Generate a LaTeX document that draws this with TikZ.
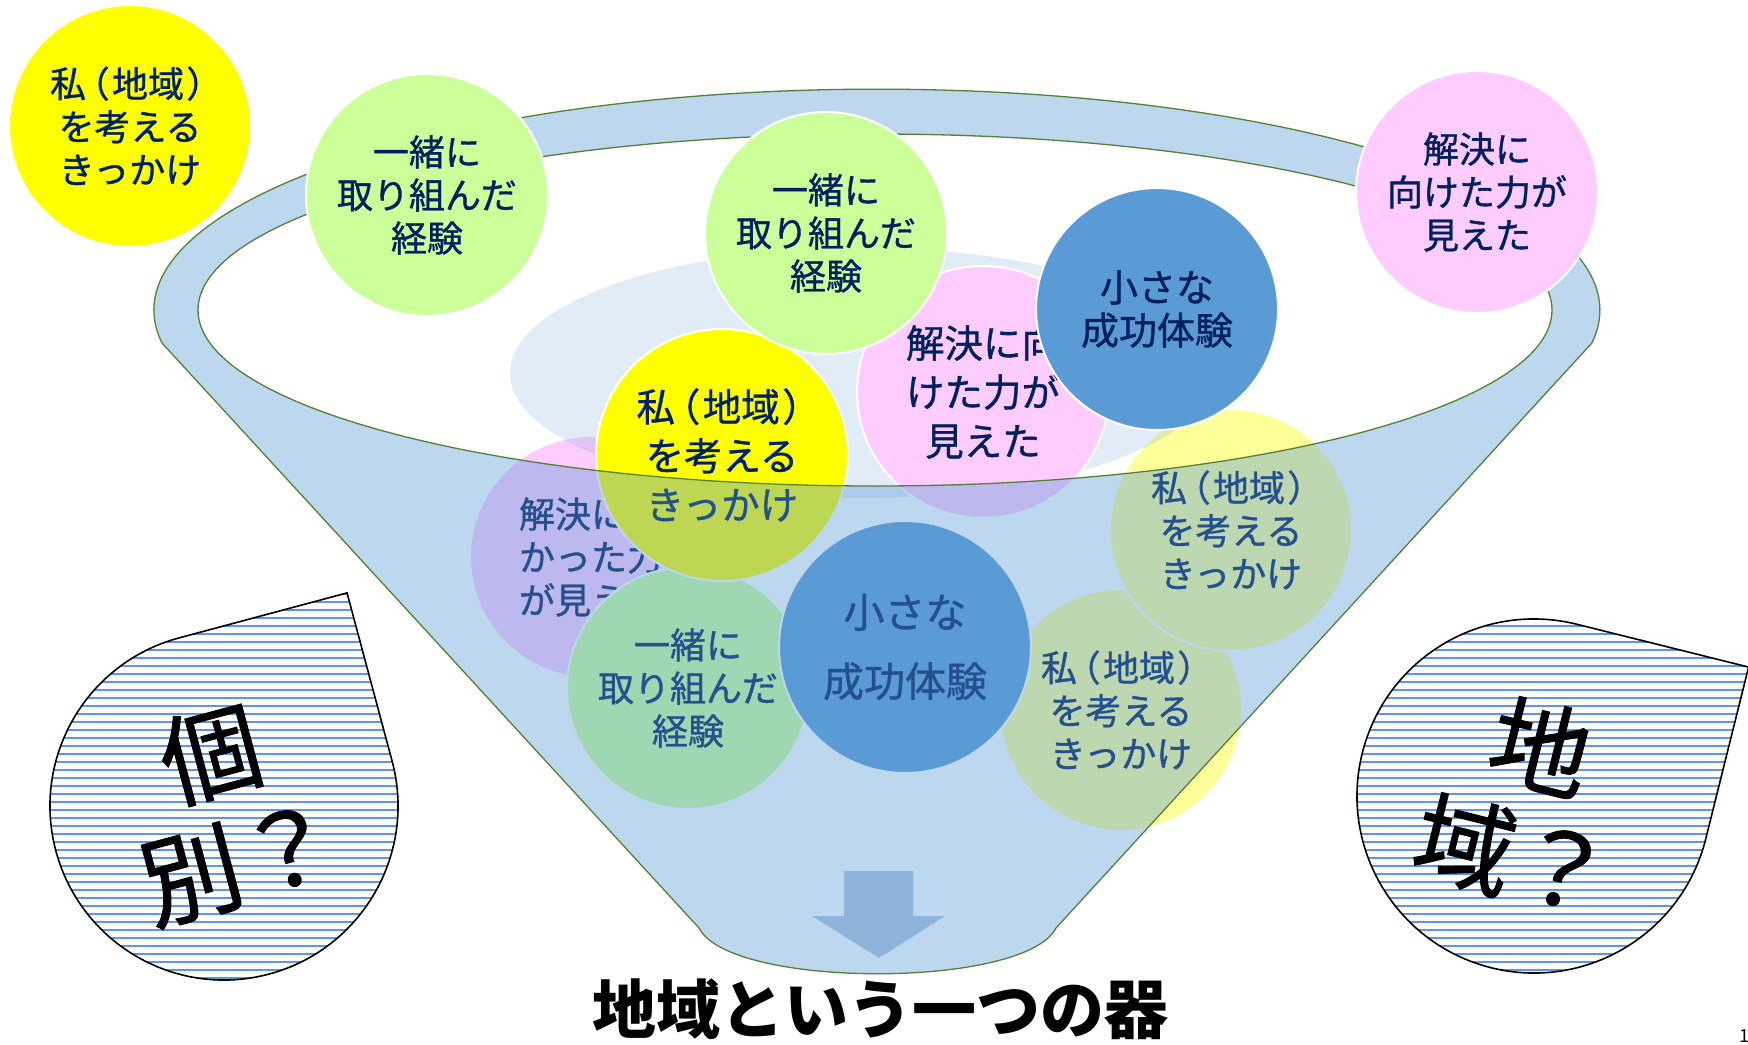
\documentclass[tikz,border=0pt]{standalone}
\usepackage{fontspec}
\setmainfont{Noto Sans CJK JP}
\newfontfamily\ballfont{Noto Sans CJK JP}[FakeBold=1]
\newfontfamily\jpp{Noto Sans CJK JP}[RawFeature=+palt, FakeBold=1]
\newcommand\myLP{{\kern0.12em\jpp （\kern0.1em}}
\newcommand\myRP{{\kern0.1em\jpp ）\kern0.12em}}
\newcommand\watashiText{私\myLP 地域\myRP\\を考える\\きっかけ}
\definecolor{navy}{HTML}{002060}
\definecolor{bblue}{HTML}{5B9BD5}
\definecolor{bpink}{HTML}{FFCCFF}
\definecolor{bgreen}{HTML}{CCFF99}
\definecolor{byellow}{HTML}{FFFF00}
\definecolor{bpale}{HTML}{FFFF99}
\definecolor{olivec}{HTML}{548235}
\definecolor{arrowc}{RGB}{143,180,220}
\begin{document}
\begin{tikzpicture}[x=1pt,y=-1pt,
  ball/.style={circle, draw=white, line width=2pt, inner sep=0pt, align=center,
    text=navy, minimum size=242pt, font=\ballfont\fontsize{36}{43}\selectfont},
  bigball/.style={ball, minimum size=252pt, font=\ballfont\fontsize{38.5}{49}\selectfont},
  droptext/.style={align=center, font=\ballfont\fontsize{100}{112}\selectfont, text=black, inner sep=0pt},
  stripe/.style={bblue, line width=2.7pt},
  dropline/.style={draw=black, line width=1.6pt}]
\useasboundingbox (0,0) rectangle (1748,1044);
\fill[white] (0,0) rectangle (1748,1044);

% balls lying deep in the funnel
\node[ball, fill=bpale] (lr) at (1121,710) {\watashiText};
\node[ball, fill=bpale] (ur) at (1231,530) {\watashiText};
\node[ball, fill=bpink] (pu) at (591,557) {解決に向\\かった力\\が見えた};
\node[ball, fill=bgreen] (gl) at (688,688) {一緒に\\取り組んだ\\経験};
\node[bigball, fill=bblue, font=\ballfont\fontsize{41}{69}\selectfont] (bl) at (905,647) {小さな\\成功体験};

% pale ellipse inside the opening
\fill[bblue, fill opacity=0.18] (862,373) ellipse [x radius=352, y radius=125];

% balls in the opening
\node[bigball, fill=byellow] (ym) at (722,455) {\watashiText};
\node[bigball, fill=bpink] (pm) at (983,392) {解決に向\\けた力が\\見えた};
\node[ball, fill=bblue, font=\ballfont\fontsize{38}{43}\selectfont] (bu) at (1157,309) {小さな\\成功体験};

% funnel
\path[fill=bblue, fill opacity=0.4, draw=olivec, line width=1.3pt, even odd rule]
  (162,343) arc[start angle=171.45, end angle=368.55, x radius=723, y radius=221]
  -- (1056,928) .. controls (1025,989) and (730,989) .. (699,928) -- cycle
  (875,310) ellipse [x radius=677, y radius=176];

% balls on the rim and outside
\node[ball, fill=bgreen] (gt) at (826,233) {一緒に\\取り組んだ\\経験};
\node[ball, fill=bgreen] (gL) at (427,195) {一緒に\\取り組んだ\\経験};
\node[ball, fill=bpink] (pr) at (1477,192) {解決に\\向けた力が\\見えた};
\node[ball, fill=byellow] (ytl) at (130,126) {\watashiText};

% down arrow
\fill[arrowc] (844,871) -- (913,871) -- (913,916) -- (945,916) -- (879,958)
  -- (812,916) -- (844,916) -- cycle;

% left droplet
\begin{scope}
  \clip[shift={(224,806)}, rotate=15] (0,-174) -- (174,-174) -- (174,0)
    arc[start angle=0, end angle=270, radius=174] -- cycle;
  \fill[white] (0,560) rectangle (460,1044);
  \foreach \yy in {586,594,...,994} \draw[stripe] (0,\yy) -- (460,\yy);
\end{scope}
\path[dropline, shift={(224,806)}, rotate=15] (0,-174) -- (174,-174) -- (174,0)
    arc[start angle=0, end angle=270, radius=174] -- cycle;
\node[droptext, rotate=15] (tl) at (225,808) {個\\別？};

% right droplet
\begin{scope}
  \clip[shift={(1534,796)}, rotate=-14] (0,-177) -- (177,-177) -- (177,0)
    arc[start angle=0, end angle=270, radius=177] -- cycle;
  \fill[white] (1300,560) rectangle (1748,1044);
  \foreach \yy in {586,594,...,994} \draw[stripe] (1300,\yy) -- (1748,\yy);
\end{scope}
\path[dropline, shift={(1534,796)}, rotate=-14] (0,-177) -- (177,-177) -- (177,0)
    arc[start angle=0, end angle=270, radius=177] -- cycle;
\node[droptext, rotate=-14] (tr) at (1527,802) {地\\域？};

% title
\node[font=\fontsize{64}{70}\selectfont\bfseries, inner sep=0pt] (title) at (880,1009) {地域という一つの器};
\node[font=\fontsize{18}{20}\selectfont, anchor=west, inner sep=0pt] (pg) at (1739,1036) {1};
\end{tikzpicture}
\end{document}
